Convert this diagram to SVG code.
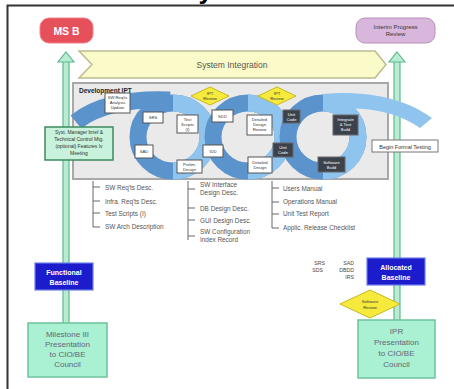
<svg xmlns="http://www.w3.org/2000/svg" width="454" height="389" viewBox="0 0 454 389">
  <style>
    text { font-family: "Liberation Sans", Arial, sans-serif; }
    .frame { stroke: #333; stroke-width: 2; fill: none; }
    .rail { fill: #b9ecd2; stroke: #5fb88c; stroke-width: 1.2; }
    .wbox { fill: #ffffff; stroke: #555; stroke-width: 1; }
    .dbox { fill: #3c424c; stroke: #666; stroke-width: 1; }
    .tiny { font-size: 4.2px; fill: #333; text-anchor: middle; }
    .tinyw { font-size: 4.2px; fill: #fff; text-anchor: middle; }
    .doc { font-size: 6.4px; fill: #555; }
    .brk { stroke: #666; stroke-width: 1; fill: none; }
    .diamond { fill: #f6ea3c; stroke: #c9b820; stroke-width: 1; }
    .gbox { fill: #aaf0d2; stroke: #6cc49a; stroke-width: 1.5; }
    .bbox { fill: #1c1ccc; stroke: #6a7ee8; stroke-width: 1.2; }
    .btext { font-size: 7px; fill: #fff; text-anchor: middle; font-weight: bold; }
    .gtext { font-size: 8px; fill: #667; text-anchor: middle; }
  </style>

  <!-- frame and cut title -->
  <text x="213" y="-1" font-size="26" font-weight="bold" text-anchor="end" fill="#000">Activity</text>
  <path class="frame" d="M7.5 389 V5.5 H454"/>

  <!-- milestone markers -->
  <g id="ms-b">
    <rect x="40" y="18" width="53" height="25" rx="9" fill="#e5505a" stroke="#f08088" stroke-width="1"/>
    <text x="66.5" y="34.5" font-size="10.5" font-weight="bold" fill="#fff" text-anchor="middle">MS B</text>
  </g>
  <g id="ipr-top">
    <rect x="356" y="18" width="79" height="25" rx="9" fill="#d9b6dc" stroke="#b890bc" stroke-width="1"/>
    <text x="395.5" y="28.5" font-size="6" fill="#333" text-anchor="middle">Interim Progress</text>
    <text x="395.5" y="36" font-size="6" fill="#333" text-anchor="middle">Review</text>
  </g>

  <!-- vertical rails -->
  <g id="connectors">
    <rect class="rail" x="63" y="60" width="6" height="264"/>
    <polygon class="rail" points="66,52 74,62 58,62"/>
    <rect class="rail" x="394" y="60" width="6" height="261"/>
    <polygon class="rail" points="397,52 405,62 389,62"/>
    <!-- document lists -->
    <path class="brk" d="M93 181 V227 M93 187 H100 M93 201 H100 M93 213 H100 M93 227 H100"/>
    <path class="brk" d="M188 181 V240 M188 189 H195 M188 208 H195 M188 220 H195 M188 236 H195"/>
    <path class="brk" d="M272 181 V228 M272 188 H279 M272 202 H279 M272 214 H279 M272 228 H279"/>
  </g>

  <!-- system integration banner -->
  <g id="system-integration">
    <polygon points="79,51 375,51 386,64.5 375,78 79,78 92,64.5" fill="#fbfbc9" stroke="#bcbc92" stroke-width="1.5"/>
    <text x="232" y="67.5" font-size="8.5" fill="#555" text-anchor="middle">System Integration</text>
  </g>

  <!-- development IPT area -->
  <g id="development-ipt">
    <rect x="73" y="83" width="315" height="96" fill="#eaeaea" stroke="#a8a8a8" stroke-width="2"/>
    <text x="79" y="93" font-size="6.5" font-weight="bold" fill="#222">Development IPT</text>
    <!-- iteration coil -->
    <path d="M76 122 C 95 106, 130 98, 170 100" fill="none" stroke="#5b93cc" stroke-width="17"/>
    <ellipse cx="173" cy="137" rx="35" ry="34" fill="none" stroke="#5b93cc" stroke-width="17"/>
    <path d="M173 103 A35 34 0 0 1 173 171" fill="none" stroke="#8fc4ee" stroke-width="17"/>
    <ellipse cx="248" cy="137" rx="35" ry="34" fill="none" stroke="#5b93cc" stroke-width="17"/>
    <path d="M248 103 A35 34 0 0 1 248 171" fill="none" stroke="#8fc4ee" stroke-width="17"/>
    <ellipse cx="323" cy="137" rx="35" ry="34" fill="none" stroke="#5b93cc" stroke-width="17"/>
    <path d="M323 103 A35 34 0 0 1 323 171" fill="none" stroke="#8fc4ee" stroke-width="17"/>
    <path d="M323 94 C 365 90, 405 98, 432 118 L 420 128 C 398 112, 362 104, 323 111 Z" fill="#8fc4ee"/>
  </g>

  <!-- review diamonds -->
  <g id="ipt-review-1">
    <polygon class="diamond" points="210,87 229,96 210,105 191,96"/>
    <text class="tiny" x="210" y="95">IPT</text>
    <text class="tiny" x="210" y="100">Review</text>
  </g>
  <g id="ipt-review-2">
    <polygon class="diamond" points="277,87 296,96 277,105 258,96"/>
    <text class="tiny" x="277" y="95">IPT</text>
    <text class="tiny" x="277" y="100">Review</text>
  </g>

  <!-- work products -->
  <g id="wp-1"><rect class="wbox" x="105" y="93" width="25" height="20"/>
    <text class="tiny" x="117.5" y="99">SW Req'ts</text><text class="tiny" x="117.5" y="104">Analysis</text><text class="tiny" x="117.5" y="109">Update</text></g>
  <g id="wp-2"><rect class="wbox" x="143" y="112" width="20" height="11"/>
    <text class="tiny" x="153" y="119">SRS</text></g>
  <g id="wp-3"><rect class="wbox" x="135" y="145" width="18" height="13"/>
    <text class="tiny" x="144" y="153">SAD</text></g>
  <g id="wp-4"><rect class="wbox" x="177" y="115" width="21" height="18"/>
    <text class="tiny" x="187.5" y="121">Test</text><text class="tiny" x="187.5" y="126">Scripts</text><text class="tiny" x="187.5" y="131">(I)</text></g>
  <g id="wp-5"><rect class="wbox" x="177" y="160" width="25" height="13"/>
    <text class="tiny" x="189.5" y="166">Prelim.</text><text class="tiny" x="189.5" y="171">Design</text></g>
  <g id="wp-6"><rect class="wbox" x="203" y="145" width="20" height="12"/>
    <text class="tiny" x="213" y="153">IDD</text></g>
  <g id="wp-7"><rect class="wbox" x="212" y="110" width="21" height="12"/>
    <text class="tiny" x="222.5" y="118">SDD</text></g>
  <g id="wp-8"><rect class="wbox" x="247" y="115" width="25" height="20"/>
    <text class="tiny" x="259.5" y="121">Detailed</text><text class="tiny" x="259.5" y="126">Design</text><text class="tiny" x="259.5" y="131">Review</text></g>
  <g id="wp-9"><rect class="wbox" x="248" y="157" width="24" height="16"/>
    <text class="tiny" x="260" y="164">Detailed</text><text class="tiny" x="260" y="169">Design</text></g>
  <g id="wp-10"><rect class="dbox" x="283" y="110" width="17" height="13"/>
    <text class="tinyw" x="291.5" y="115.5">Unit</text><text class="tinyw" x="291.5" y="120.5">Code</text></g>
  <g id="wp-11"><rect class="dbox" x="273" y="143" width="20" height="14"/>
    <text class="tinyw" x="283" y="149">Unit</text><text class="tinyw" x="283" y="154">Code</text></g>
  <g id="wp-12"><rect class="dbox" x="333" y="115" width="25" height="20"/>
    <text class="tinyw" x="345.5" y="121">Integrate</text><text class="tinyw" x="345.5" y="126">&amp; Test</text><text class="tinyw" x="345.5" y="131">Build</text></g>
  <g id="wp-13"><rect class="dbox" x="318" y="157" width="27" height="15"/>
    <text class="tinyw" x="331.5" y="163.5">Software</text><text class="tinyw" x="331.5" y="168.5">Build</text></g>

  <g id="reqts-mgmt">
    <rect x="45" y="127" width="68" height="33" fill="#c8f2dc" stroke="#3d8a5e" stroke-width="1.5"/>
    <text x="79" y="134" font-size="5" fill="#333" text-anchor="middle">Syst. Manager brief &amp;</text>
    <text x="79" y="141" font-size="5" fill="#333" text-anchor="middle">Technical Control Mtg.</text>
    <text x="79" y="148" font-size="5" fill="#333" text-anchor="middle">(optional) Features Iv</text>
    <text x="79" y="155" font-size="5" fill="#333" text-anchor="middle">Meeting</text>
  </g>

  <g id="begin-testing">
    <rect x="372" y="140" width="66" height="12" fill="#fff" stroke="#777" stroke-width="1"/>
    <text x="405" y="148.5" font-size="5.5" fill="#333" text-anchor="middle">Begin Formal Testing</text>
  </g>

  <!-- document lists -->
  <g id="docs-1">
    <text class="doc" x="105" y="189.5">SW Req'ts Desc.</text>
    <text class="doc" x="105" y="203.5">Infra. Req'ts Desc.</text>
    <text class="doc" x="105" y="215.5">Test Scripts (I)</text>
    <text class="doc" x="105" y="229">SW Arch Description</text>
  </g>
  <g id="docs-2">
    <text class="doc" x="200" y="187">SW Interface</text>
    <text class="doc" x="200" y="194.5">Design Desc.</text>
    <text class="doc" x="200" y="210.5">DB Design Desc.</text>
    <text class="doc" x="200" y="222.5">GUI Design Desc.</text>
    <text class="doc" x="200" y="234">SW Configuration</text>
    <text class="doc" x="200" y="241.5">Index Record</text>
  </g>
  <g id="docs-3">
    <text class="doc" x="283" y="190.5">Users Manual</text>
    <text class="doc" x="283" y="204">Operations Manual</text>
    <text class="doc" x="283" y="216">Unit Test Report</text>
    <text class="doc" x="283" y="230">Applic. Release Checklist</text>
  </g>

  <!-- baselines and council presentations -->
  <g id="functional-baseline">
    <rect class="bbox" x="35" y="263" width="58" height="27"/>
    <text class="btext" x="64" y="274.5">Functional</text>
    <text class="btext" x="64" y="284.5">Baseline</text>
  </g>
  <g id="milestone-iii">
    <rect class="gbox" x="28" y="323" width="79" height="54"/>
    <text class="gtext" x="67.5" y="337">Milestone III</text>
    <text class="gtext" x="67.5" y="347">Presentation</text>
    <text class="gtext" x="67.5" y="357">to CIO/BE</text>
    <text class="gtext" x="67.5" y="367">Council</text>
  </g>

  <g id="spec-list">
    <text x="325" y="265" font-size="5.2" fill="#444" text-anchor="end">SRS</text>
    <text x="354" y="265" font-size="5.2" fill="#444" text-anchor="end">SAD</text>
    <text x="323" y="272" font-size="5.2" fill="#444" text-anchor="end">SDS</text>
    <text x="354" y="272" font-size="5.2" fill="#444" text-anchor="end">DBDD</text>
    <text x="354" y="279" font-size="5.2" fill="#444" text-anchor="end">IRS</text>
  </g>
  <g id="allocated-baseline">
    <rect class="bbox" x="367" y="258" width="58" height="27"/>
    <text class="btext" x="396" y="269.5">Allocated</text>
    <text class="btext" x="396" y="279.5">Baseline</text>
  </g>
  <g id="software-review">
    <polygon class="diamond" points="370,290 400,304 370,318 340,304"/>
    <text class="tiny" x="370" y="302.5" font-size="5">Software</text>
    <text class="tiny" x="370" y="308.5" font-size="5">Review</text>
  </g>
  <g id="ipr-presentation">
    <rect class="gbox" x="358" y="320" width="77" height="58"/>
    <text class="gtext" x="396.5" y="334">IPR</text>
    <text class="gtext" x="396.5" y="345">Presentation</text>
    <text class="gtext" x="396.5" y="356">to CIO/BE</text>
    <text class="gtext" x="396.5" y="367">Council</text>
  </g>
</svg>
